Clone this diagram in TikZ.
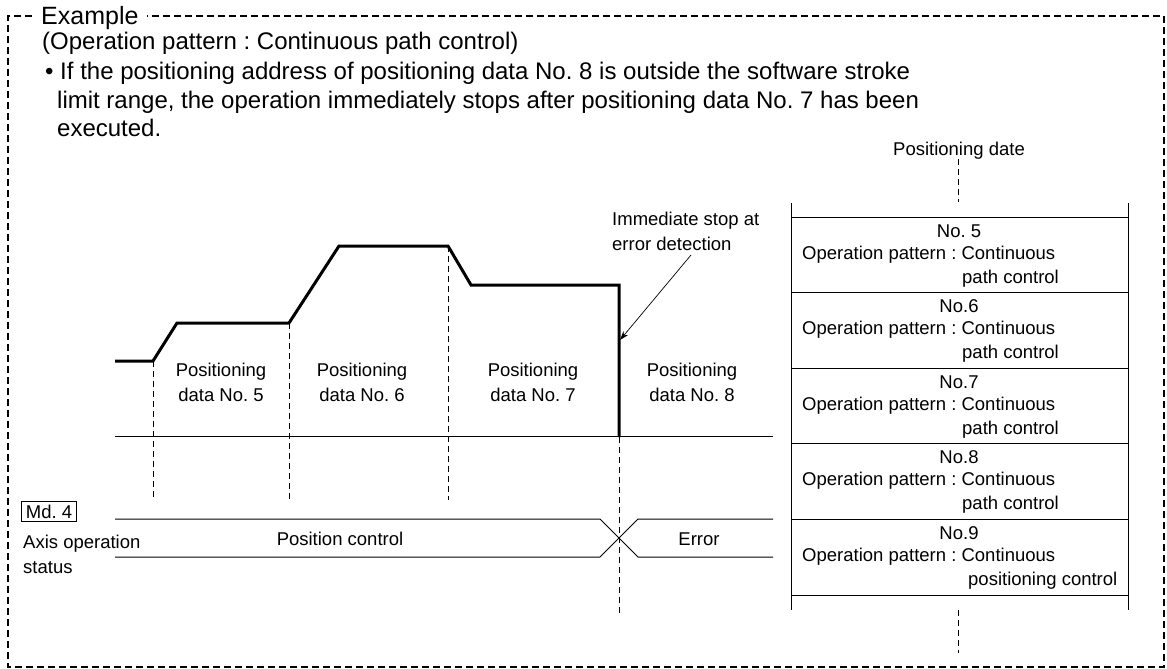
\documentclass[tikz,border=0pt]{standalone}
\usepackage{fontspec}
\setmainfont{Liberation Sans}
\usetikzlibrary{arrows.meta}
\AtBeginDocument{\frenchspacing}
\begin{document}
\begin{tikzpicture}[x=1pt,y=-1pt,
  frame/.style={line width=2.2pt, dash pattern=on 7pt off 4pt},
  guide/.style={line width=0.9pt, dash pattern=on 6pt off 4pt},
  profile/.style={line width=3pt, line join=miter},
  thinline/.style={line width=1pt},
  lbl/.style={font=\fontsize{18.5}{25}\selectfont, inner sep=0pt},
  big/.style={font=\fontsize{24}{28}\selectfont, inner sep=0pt, anchor=base west},
  cellno/.style={lbl, anchor=base},
  cellop/.style={lbl, anchor=base west},
]
\useasboundingbox (0,0) rectangle (1167,669);

% frame
\node[font=\fontsize{25}{28}\selectfont, inner sep=0pt, anchor=base west] (ex) at (41,25) {Example};
\draw[frame] (32,16) -- (8,16) -- (8,667) -- (1164,667) -- (1164,16) -- (147,16);

% header text
\node[big] (t1) at (42,50) {(Operation pattern : Continuous path control)};
\node[big] (t2) at (45,80) {\textbullet\ If the positioning address of positioning data No. 8 is outside the software stroke};
\node[big] (t3) at (57,108) {limit range, the operation immediately stops after positioning data No. 7 has been};
\node[big] (t4) at (57,136) {executed.};

% speed profile
\draw[profile] (115,361) -- (153,361) -- (177,323) -- (289,323) -- (339,246) -- (448,246) -- (471,285) -- (619,285) -- (619,437);

% baseline
\draw[thinline] (115,436) -- (773,436);

% guides
\coordinate (g1a) at (153,361); \coordinate (g1b) at (153,500);
\coordinate (g2a) at (289,323); \coordinate (g2b) at (289,500);
\coordinate (g3a) at (448,246); \coordinate (g3b) at (448,500);
\coordinate (g4a) at (619,437); \coordinate (g4b) at (619,616);
\draw[guide] (g1a) -- (g1b);
\draw[guide] (g2a) -- (g2b);
\draw[guide] (g3a) -- (g3b);
\draw[guide] (g4a) -- (g4b);

% segment labels (base anchor = last line baseline)
\node[lbl, align=center, anchor=base] (p5) at (221,401) {Positioning\\data No. 5};
\node[lbl, align=center, anchor=base] (p6) at (362,401) {Positioning\\data No. 6};
\node[lbl, align=center, anchor=base] (p7) at (533,401) {Positioning\\data No. 7};
\node[lbl, align=center, anchor=base] (p8) at (692,401) {Positioning\\data No. 8};

% immediate stop annotation
\node[lbl, align=left, anchor=base west] (stop) at (612,250) {Immediate stop at\\error detection};
\coordinate (stoppt) at (620,340);
\draw[line width=0.7pt, -{Stealth[length=9pt,width=6pt]}] (691,255) -- (stoppt);

% axis operation status
\node[lbl, draw, line width=0.9pt, inner xsep=4.5pt, inner ysep=3.5pt, anchor=base west] (md) at (21,518) {Md. 4};
\node[lbl, align=left, anchor=base west] (axis) at (23,573) {Axis operation\\status};
\draw[thinline] (115,519) -- (600,519) -- (638,557) -- (773,557);
\draw[thinline] (115,557) -- (600,557) -- (638,519) -- (773,519);
\node[lbl, anchor=base] (pc) at (340,545) {Position control};
\node[lbl, anchor=base] (err) at (699,545) {Error};

% positioning data table
\node[lbl, anchor=base] (pd) at (959,155) {Positioning date};
\coordinate (pdtop) at (958,159); \coordinate (pdbot) at (958,202);
\draw[guide] (pdtop) -- (pdbot);
\draw[thinline] (791,203) -- (791,610);
\draw[thinline] (1128,203) -- (1128,610);
\foreach \yy in {217,292.5,368,443.5,519,595} {
  \draw[thinline] (791,\yy) -- (1128,\yy);
}
\coordinate (pdbot2a) at (958,610); \coordinate (pdbot2b) at (958,653);
\draw[guide] (pdbot2a) -- (pdbot2b);

\node[cellno] (n5) at (959,237) {No. 5};
\node[cellop] (o5) at (802,259) {Operation pattern : Continuous};
\node[cellop] (c5) at (962,283) {path control};

\node[cellno] (n6) at (959,312.5) {No.6};
\node[cellop] (o6) at (802,334.5) {Operation pattern : Continuous};
\node[cellop] (c6) at (962,358.5) {path control};

\node[cellno] (n7) at (959,388) {No.7};
\node[cellop] (o7) at (802,410) {Operation pattern : Continuous};
\node[cellop] (c7) at (962,434) {path control};

\node[cellno] (n8) at (959,463.5) {No.8};
\node[cellop] (o8) at (802,485.5) {Operation pattern : Continuous};
\node[cellop] (c8) at (962,509.5) {path control};

\node[cellno] (n9) at (959,539) {No.9};
\node[cellop] (o9) at (802,561) {Operation pattern : Continuous};
\node[cellop] (c9) at (968,585) {positioning control};
\end{tikzpicture}
\end{document}
